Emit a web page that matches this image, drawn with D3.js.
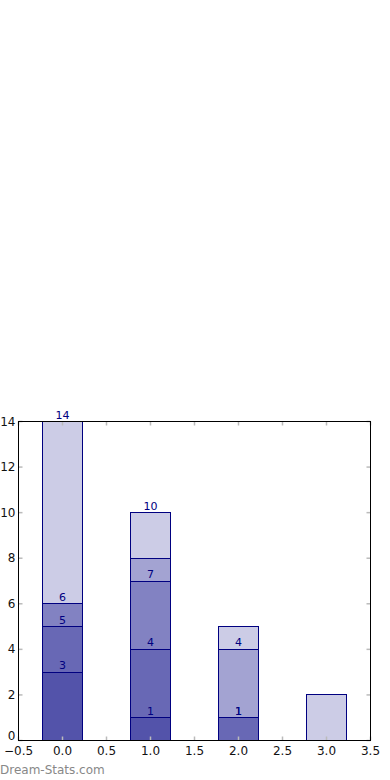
<!DOCTYPE html>
<html>
<head>
<meta charset="utf-8">
<script src="https://cdn.jsdelivr.net/npm/d3@7"></script>
<style>
  body { margin: 0; background: #fff; }
  text { font-family: "DejaVu Sans", sans-serif; }
</style>
</head>
<body>
<script>
// overlapping bars, one per series, all starting from zero
var positions = [0, 1, 2, 3];
var seriesA = [3, 1, 0, 0];
var seriesB = [5, 4, 1, 0];
var seriesC = [6, 7, 1, 0];
var seriesD = [6, 8, 4, 0];
var seriesE = [14, 10, 5, 2];
var series = [seriesA, seriesB, seriesC, seriesD, seriesE];

// value labels shown on each bar
var labelBar = [0, 0, 0, 0, 1, 1, 1, 1, 2, 2, 2];
var labelVal = [3, 5, 6, 14, 1, 4, 7, 10, 1, 1, 4];

var xTicks = [-0.5, 0, 0.5, 1, 1.5, 2, 2.5, 3, 3.5];
var yTicks = [0, 2, 4, 6, 8, 10, 12, 14];

var margin = {top: 421, right: 20, bottom: 40, left: 18};
var width = 370 - margin.left;
var height = 740 - margin.top;
var barWidth = 0.45;
var navy = "#000080";

var svg = d3.select("body")
    .append("svg")
        .attr("width", 390)
        .attr("height", 780);

var g = svg.append("g")
    .attr("transform", "translate(" + (margin.left + 0.5) + ", " + (margin.top + 0.5) + ")");

var x = d3.scaleLinear()
    .domain([-0.5, 3.5])
    .range([0, width]);

var y = d3.scaleLinear()
    .domain([0, 14])
    .range([height, 0]);

series.forEach((s) => {
    g.selectAll(null).data(s)
        .enter()
        .append("rect")
            .attr("x", (d, i) => Math.round(x(positions[i] - barWidth / 2)))
            .attr("width", Math.round(x(barWidth) - x(0)))
            .attr("y", (d) => Math.round(y(d)))
            .attr("height", (d) => Math.round(y(0)) - Math.round(y(d)))
            .attr("fill", navy)
            .attr("fill-opacity", 0.2)
            .attr("stroke", d => d > 0 ? navy : "none")
            .attr("stroke-width", 1)
            .attr("shape-rendering", "crispEdges");
});

g.selectAll(".val").data(labelVal)
    .enter()
    .append("text")
        .attr("class", "val")
        .attr("x", (d, i) => x(positions[labelBar[i]]))
        .attr("y", (d) => y(d) - 3)
        .attr("text-anchor", "middle")
        .attr("font-size", "11px")
        .attr("fill", navy)
        .text((d) => d);

// ticks inside on all sides
var tickColor = "#bbb";
g.selectAll(".xt").data(xTicks)
    .enter()
    .append("line")
        .attr("x1", d => x(d)).attr("x2", d => x(d))
        .attr("y1", height).attr("y2", height - 4)
        .attr("stroke", tickColor).attr("stroke-width", 1.5);
g.selectAll(".xtt").data(xTicks)
    .enter()
    .append("line")
        .attr("x1", d => x(d)).attr("x2", d => x(d))
        .attr("y1", 0).attr("y2", 4)
        .attr("stroke", tickColor).attr("stroke-width", 1.5);
g.selectAll(".yt").data(yTicks)
    .enter()
    .append("line")
        .attr("x1", 0).attr("x2", 4)
        .attr("y1", d => y(d)).attr("y2", d => y(d))
        .attr("stroke", tickColor).attr("stroke-width", 1.5);
g.selectAll(".ytr").data(yTicks)
    .enter()
    .append("line")
        .attr("x1", width).attr("x2", width - 4)
        .attr("y1", d => y(d)).attr("y2", d => y(d))
        .attr("stroke", tickColor).attr("stroke-width", 1.5);

// frame
g.append("rect")
    .attr("x", 0).attr("y", 0)
    .attr("width", width).attr("height", height)
    .attr("fill", "none")
    .attr("stroke", "#000")
    .attr("stroke-width", 1)
    .attr("shape-rendering", "crispEdges");

g.selectAll(".xl").data(xTicks)
    .enter()
    .append("text")
        .attr("x", d => x(d))
        .attr("y", height + 14)
        .attr("text-anchor", "middle")
        .attr("font-size", "12px")
        .attr("fill", "#111")
        .text(d => d3.format(".1f")(d).replace("-", "\u2212"));

g.selectAll(".yl").data(yTicks)
    .enter()
    .append("text")
        .attr("x", -3)
        .attr("y", d => y(d) + (d === 0 ? -1 : 4))
        .attr("text-anchor", "end")
        .attr("font-size", "12px")
        .attr("fill", "#111")
        .text(d => d);

svg.append("text")
    .attr("x", 0)
    .attr("y", 774)
    .attr("font-size", "12px")
    .attr("fill", "#888")
    .text("Dream-Stats.com");
</script>
</body>
</html>
